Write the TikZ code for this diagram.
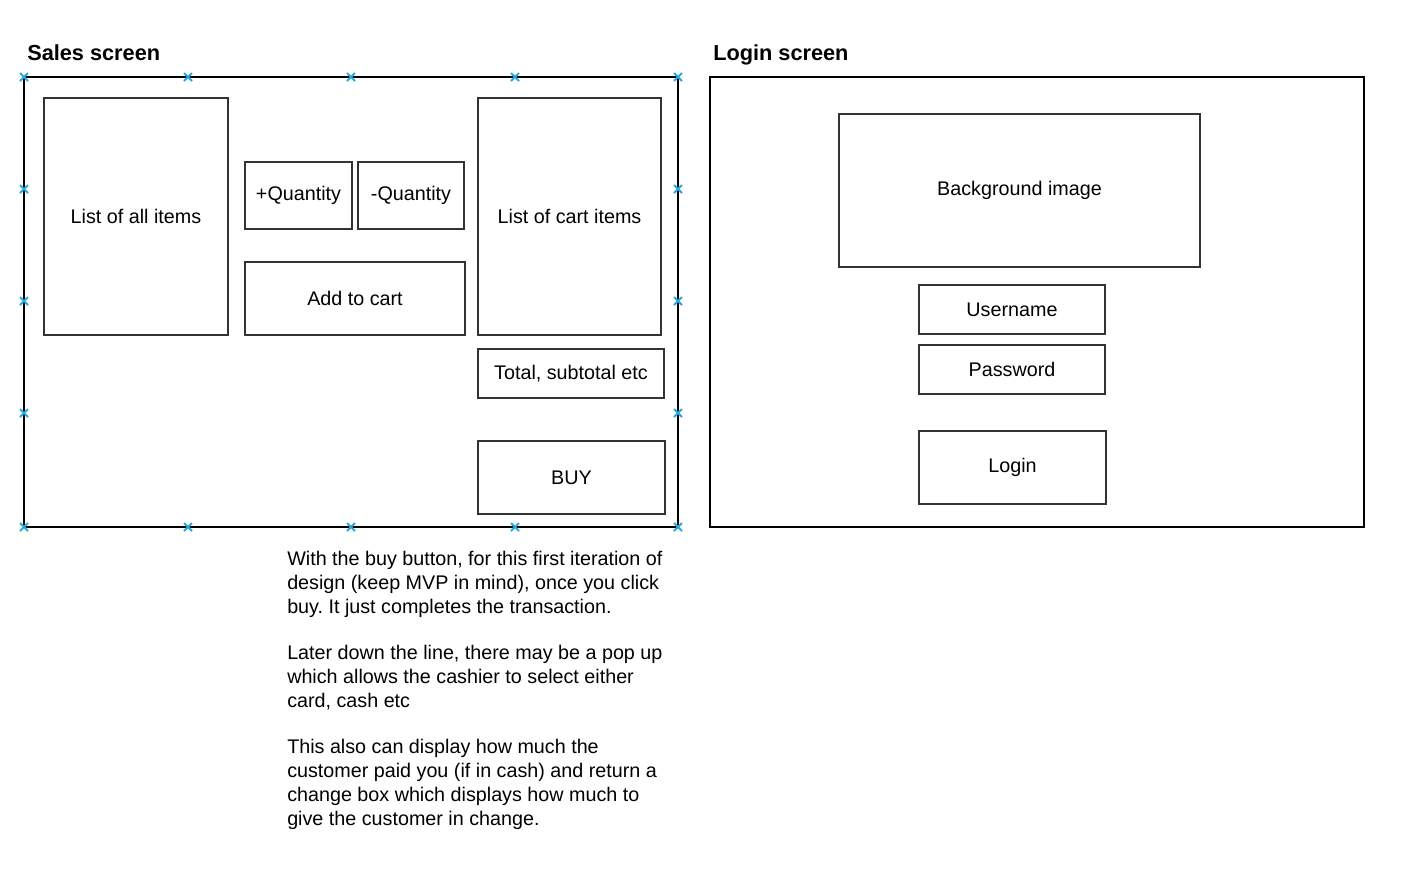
\documentclass[tikz,border=0pt]{standalone}
\usepackage{fontspec}
\setmainfont{Liberation Sans}
\usetikzlibrary{fit}
\definecolor{handleblue}{HTML}{29A8E0}
\definecolor{edge}{HTML}{333333}
\frenchspacing

\begin{document}
\begin{tikzpicture}[x=0.75pt, y=-0.75pt,
    frame/.style={draw=black, line width=0.8pt, inner sep=0pt},
    box/.style 2 args={draw=edge, line width=0.8pt, inner sep=0pt,
      minimum width=#1*0.75pt, minimum height=#2*0.75pt,
      font=\fontsize{14.8}{18}\selectfont},
    title/.style={anchor=base west, inner sep=0pt, font=\fontsize{16.3}{19}\selectfont\bfseries},
    handle/.style={handleblue, line width=1.4pt}]
  \useasboundingbox (0,0) rectangle (1403,894);
  % sales screen
  \node[title] (salestitle) at (27,60) {Sales screen};
  \node[frame, fit={(24,77) (678,527)}] (sales) {};
  \node[box={184}{237}] (allitems) at (136,216.5) {List of all items};
  \node[box={107}{67}] (plusqty) at (298.5,195.5) {+Quantity};
  \node[box={106}{67}] (minusqty) at (411,195.5) {-Quantity};
  \node[box={220}{73}] (addcart) at (355,298.5) {Add to cart};
  \node[box={183}{237}] (cartitems) at (569.5,216.5) {List of cart items};
  \node[box={186}{49}] (total) at (571,373.5) {Total, subtotal etc};
  \node[box={187}{73}] (buy) at (571.5,477.5) {BUY};
  \foreach \p in {24,188,351,515,678}
    { \draw[handle] (\p-4,73) -- (\p+4,81) (\p-4,81) -- (\p+4,73);
      \draw[handle] (\p-4,523) -- (\p+4,531) (\p-4,531) -- (\p+4,523); }
  \foreach \p in {189,301,413}
    { \draw[handle] (20,\p-4) -- (28,\p+4) (20,\p+4) -- (28,\p-4);
      \draw[handle] (674,\p-4) -- (682,\p+4) (674,\p+4) -- (682,\p-4); }
  \node[anchor=north west, inner sep=0pt, align=left,
        font=\fontsize{14.8}{18}\selectfont] (buynote) at (287,551)
    {With the buy button, for this first iteration of\\
     design (keep MVP in mind), once you click\\
     buy. It just completes the transaction.\\[16.5pt]
     Later down the line, there may be a pop up\\
     which allows the cashier to select either\\
     card, cash etc\\[16.5pt]
     This also can display how much the\\
     customer paid you (if in cash) and return a\\
     change box which displays how much to\\
     give the customer in change.};
  % login screen
  \node[title] (logintitle) at (713,60) {Login screen};
  \node[frame, fit={(710,77) (1364,527)}] (login) {};
  \node[box={361}{153}] (background) at (1019.5,190.5) {Background image};
  \node[box={186}{49}] (username) at (1012,309.5) {Username};
  \node[box={186}{49}] (password) at (1012,369.5) {Password};
  \node[box={187}{73}] (loginbtn) at (1012.5,467.5) {Login};
\end{tikzpicture}
\end{document}
